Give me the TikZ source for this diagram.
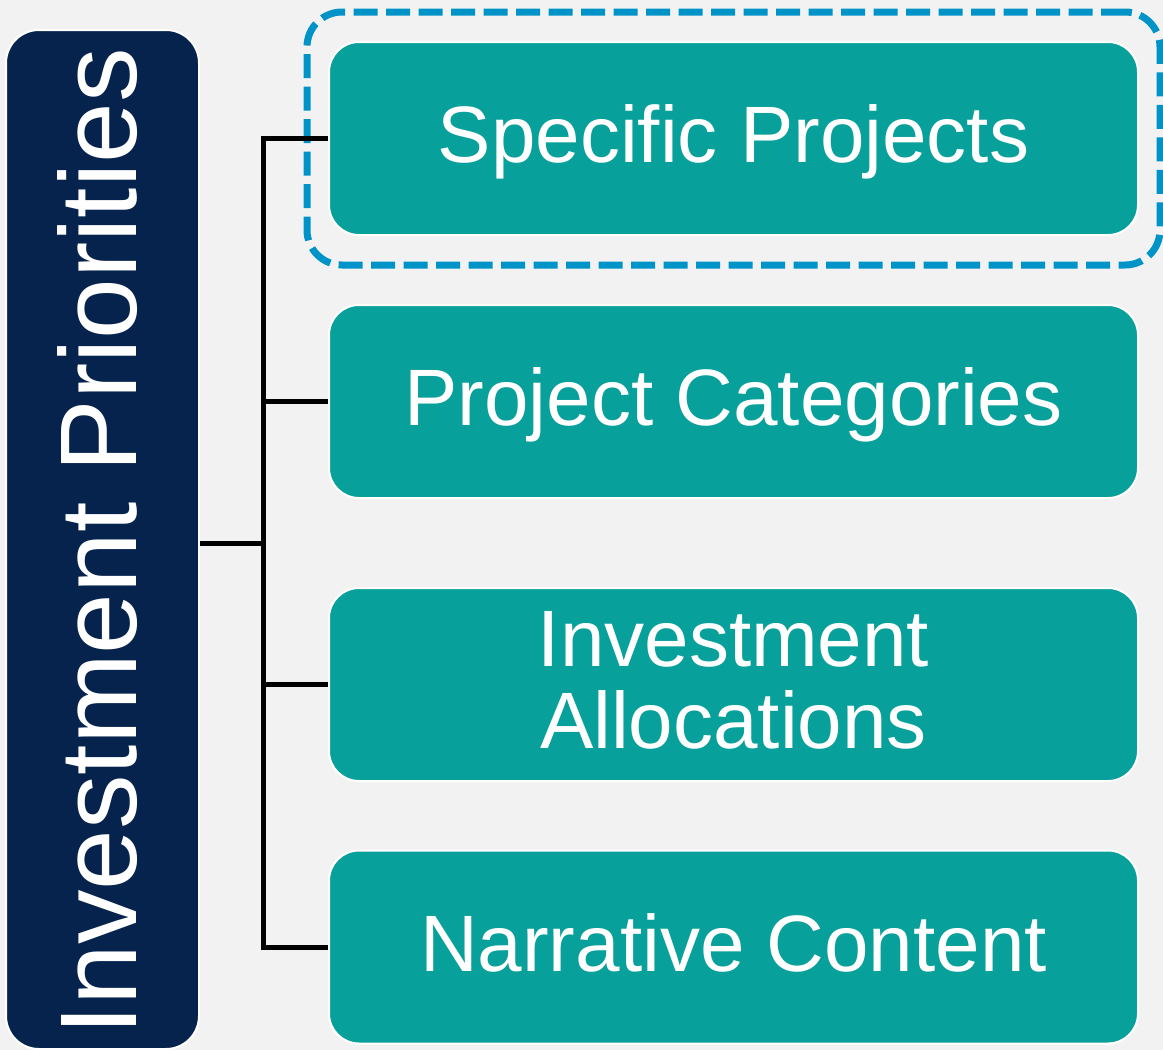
\documentclass[tikz,border=0pt]{standalone}
\usepackage{fontspec}
\setmainfont{Liberation Sans}
\usetikzlibrary{fit}
\definecolor{bgc}{RGB}{242,242,242}
\definecolor{navy}{RGB}{5,35,77}
\definecolor{tealbox}{RGB}{8,160,155}
\definecolor{dashblue}{RGB}{0,147,200}
\begin{document}
\begin{tikzpicture}[x=1pt,y=-1pt,
  itembox/.style={rectangle, rounded corners=30pt, fill=tealbox, draw=white, line width=2pt,
    minimum width=809pt, minimum height=193pt, inner sep=0pt},
  lbl/.style={text=white, font=\fontsize{80}{82}\selectfont, inner sep=0pt},
  conn/.style={line width=5pt, draw=black},
]
\fill[bgc] (0,0) rectangle (1163,1050);
\useasboundingbox (0,0) rectangle (1163,1050);

% root
\node[rectangle, rounded corners=33pt, fill=navy, draw=white, line width=2pt,
  minimum width=193pt, minimum height=1019pt, inner sep=0pt] (root) at (102.5,539.5) {};
\node[text=white, font=\fontsize{109}{110}\selectfont, inner sep=0pt, rotate=90, anchor=base]
  (rootlbl) at (136,542) {Investment Priorities};

% items
\node[itembox] (b1) at (733.5,138.5) {};
\node[itembox] (b2) at (733.5,401.5) {};
\node[itembox] (b3) at (733.5,684.5) {};
\node[itembox] (b4) at (733.5,947) {};

\node[lbl, anchor=base] (l1) at ([yshift=-24pt]b1.center) {Specific Projects};
\node[lbl, anchor=base] (l2) at ([yshift=-24pt]b2.center) {Project Categories};
\node[lbl, align=center, anchor=center] (l3) at ([yshift=4pt]b3.center) {Investment\\Allocations};
\node[lbl, anchor=base] (l4) at ([yshift=-24pt]b4.center) {Narrative Content};

% highlight
\node[draw=dashblue, line width=7pt, dash pattern=on 24pt off 8.5pt, rounded corners=35pt,
  fit=(b1), inner xsep=21pt, inner ysep=29pt] (hl) {};

% connectors
\coordinate (j) at (263,543);
\draw[conn] (root.east |- j) -- (j);
\draw[conn] (j) |- (b1.west);
\draw[conn] (j) |- (b2.west);
\draw[conn] (j) |- (b3.west);
\draw[conn] (j) |- (b4.west);
\end{tikzpicture}
\end{document}
